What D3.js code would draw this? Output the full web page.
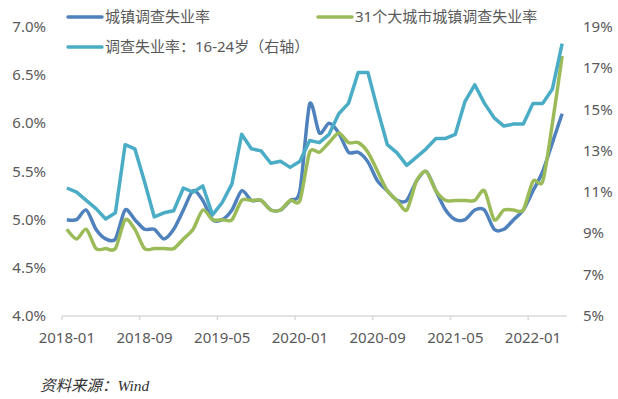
<!DOCTYPE html>
<html>
<head>
<meta charset="utf-8">
<script src="https://cdn.jsdelivr.net/npm/d3@7"></script>
<style>
  body { margin: 0; background: #fff; }
  text { font-family: "Noto Sans", "Noto Sans CJK SC", sans-serif; }
</style>
</head>
<body>
<div id="chart"></div>
<script>
// months 2018-01 .. 2022-04
var months = [];
for (var yr = 2018; yr <= 2022; yr++) {
    for (var m = 1; m <= 12; m++) {
        if (yr == 2022 && m > 4) break;
        months.push(yr + '-' + (m < 10 ? '0' + m : m));
    }
}

var tickLabels = ['2018-01', '2018-09', '2019-05', '2020-01', '2020-09', '2021-05', '2022-01'];
var leftTicks = [4.0, 4.5, 5.0, 5.5, 6.0, 6.5, 7.0];
var rightTicks = [5, 7, 9, 11, 13, 15, 17, 19];

// 城镇调查失业率 (left axis)
var urban = [
    5.0, 5.0, 5.1, 4.9, 4.8, 4.8, 5.1, 5.0, 4.9, 4.9, 4.8, 4.9,
    5.1, 5.3, 5.2, 5.0, 5.0, 5.1, 5.3, 5.2, 5.2, 5.1, 5.1, 5.2,
    5.3, 6.2, 5.9, 6.0, 5.9, 5.7, 5.7, 5.6, 5.4, 5.3, 5.2, 5.2,
    5.4, 5.5, 5.3, 5.1, 5.0, 5.0, 5.1, 5.1, 4.9, 4.9, 5.0, 5.1,
    5.3, 5.5, 5.8, 6.1
];
// 31个大城市城镇调查失业率 (left axis)
var city31 = [
    4.9, 4.8, 4.9, 4.7, 4.7, 4.7, 5.0, 4.9, 4.7, 4.7, 4.7, 4.7,
    4.8, 4.9, 5.1, 5.0, 5.0, 5.0, 5.2, 5.2, 5.2, 5.1, 5.1, 5.2,
    5.2, 5.7, 5.7, 5.8, 5.9, 5.8, 5.8, 5.7, 5.5, 5.3, 5.2, 5.1,
    5.4, 5.5, 5.3, 5.2, 5.2, 5.2, 5.2, 5.3, 5.0, 5.1, 5.1, 5.1,
    5.4, 5.4, 6.0, 6.7
];
// 调查失业率：16-24岁 (right axis)
var youth = [
    11.2, 11.0, 10.6, 10.2, 9.7, 10.0, 13.3, 13.1, 11.5, 9.8, 10.0, 10.1,
    11.2, 11.0, 11.3, 9.9, 10.5, 11.4, 13.8, 13.1, 13.0, 12.4, 12.5, 12.2,
    12.5, 13.5, 13.4, 13.8, 14.8, 15.3, 16.8, 16.8, 15.0, 13.3, 12.9, 12.3,
    12.7, 13.1, 13.6, 13.6, 13.8, 15.4, 16.2, 15.3, 14.6, 14.2, 14.3, 14.3,
    15.3, 15.3, 16.0, 18.2
];

var width = 618, height = 399;
var blue = '#4F81BD', green = '#9BBB59', aqua = '#4BACC6';

var svg = d3.select('#chart').append('svg')
    .attr('width', width)
    .attr('height', height);

var x = d3.scaleBand().domain(months).range([62, 567]).padding(0);
var yL = d3.scaleLinear().domain([4, 7]).range([316, 27]);
var yR = d3.scaleLinear().domain([5, 19]).range([316, 27]);

var cx = function (d, i) { return x(months[i]) + x.bandwidth() / 2; };

// x axis line + ticks at band edges
svg.append('line')
    .attr('x1', 62).attr('x2', 567)
    .attr('y1', yL(4)).attr('y2', yL(4))
    .attr('stroke', '#d9d9d9').attr('stroke-width', 1.5);

svg.selectAll('.xtick')
    .data(tickLabels)
    .enter().append('line')
    .attr('x1', function (d) { return x(d); })
    .attr('x2', function (d) { return x(d); })
    .attr('y1', yL(4)).attr('y2', yL(4) + 4)
    .attr('stroke', '#d9d9d9').attr('stroke-width', 1.5);

svg.selectAll('.xlab')
    .data(tickLabels)
    .enter().append('text')
    .attr('x', function (d) { return x(d) + x.bandwidth() / 2; })
    .attr('y', 343)
    .attr('text-anchor', 'middle')
    .attr('font-size', 15)
    .attr('fill', '#595959')
    .text(function (d) { return d; });

svg.selectAll('.ylab')
    .data(leftTicks)
    .enter().append('text')
    .attr('x', 46)
    .attr('y', function (d) { return yL(d) + 5; })
    .attr('text-anchor', 'end')
    .attr('font-size', 15)
    .attr('fill', '#595959')
    .text(function (d) { return d.toFixed(1) + '%'; });

svg.selectAll('.rlab')
    .data(rightTicks)
    .enter().append('text')
    .attr('x', 583)
    .attr('y', function (d) { return yR(d) + 5; })
    .attr('text-anchor', 'start')
    .attr('font-size', 15)
    .attr('fill', '#595959')
    .text(function (d) { return d + '%'; });

// lines
var smoothL = d3.line().x(cx).y(function (d) { return yL(d); })
    .curve(d3.curveCardinal.tension(0.2));
var straightR = d3.line().x(cx).y(function (d) { return yR(d); });

svg.append('path').attr('d', smoothL(urban))
    .attr('fill', 'none').attr('stroke', blue).attr('stroke-width', 3.5)
    .attr('stroke-linejoin', 'round');
svg.append('path').attr('d', smoothL(city31))
    .attr('fill', 'none').attr('stroke', green).attr('stroke-width', 3.5)
    .attr('stroke-linejoin', 'round');
svg.append('path').attr('d', straightR(youth))
    .attr('fill', 'none').attr('stroke', aqua).attr('stroke-width', 3.5)
    .attr('stroke-linejoin', 'round');

// legend
var legend = [
    {label: '城镇调查失业率', color: blue, x: 68, y: 17},
    {label: '31个大城市城镇调查失业率', color: green, x: 318, y: 17},
    {label: '调查失业率：16-24岁（右轴）', color: aqua, x: 68, y: 47}
];
var lg = svg.selectAll('.legend').data(legend).enter().append('g');
lg.append('line')
    .attr('x1', function (d) { return d.x; })
    .attr('x2', function (d) { return d.x + 34; })
    .attr('y1', function (d) { return d.y; })
    .attr('y2', function (d) { return d.y; })
    .attr('stroke', function (d) { return d.color; })
    .attr('stroke-width', 3.5)
    .attr('stroke-linecap', 'round');
lg.append('text')
    .attr('x', function (d) { return d.x + 37; })
    .attr('y', function (d) { return d.y + 5; })
    .attr('font-size', 15)
    .attr('fill', '#595959')
    .text(function (d) { return d.label; });

// source note
svg.append('text')
    .attr('x', 40).attr('y', 391)
    .attr('font-size', 15.5)
    .attr('font-style', 'italic')
    .attr('fill', '#333')
    .style('font-family', '"Liberation Serif", "Noto Sans CJK SC", serif')
    .text('资料来源：Wind');
</script>
</body>
</html>
